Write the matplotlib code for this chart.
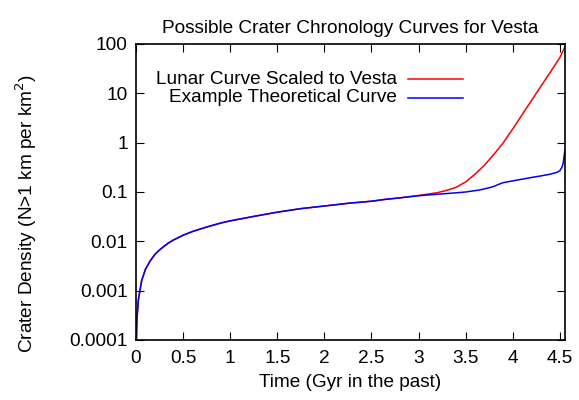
import matplotlib
matplotlib.use("Agg")
import matplotlib.pyplot as plt
from matplotlib.ticker import FixedLocator, NullLocator

plt.rcParams['font.family'] = ['Liberation Sans', 'DejaVu Sans']
FS = 13.7

# Data
time_gyr = [0.0, 0.004, 0.01, 0.025, 0.06, 0.1, 0.15, 0.2, 0.25, 0.3, 0.35, 0.4,
            0.5, 0.6, 0.75, 0.9, 1.0, 1.25, 1.5, 1.75, 2.0, 2.25, 2.5, 2.65, 2.8,
            3.0, 3.2, 3.3, 3.4, 3.5, 3.6, 3.7, 3.8, 3.9, 4.0, 4.1, 4.2, 4.3, 4.4,
            4.5, 4.555]
lunar = [0.00008, 0.0001, 0.00026, 0.00065, 0.0016, 0.0027, 0.004, 0.0054,
         0.0067, 0.008, 0.0094, 0.0107, 0.0133, 0.0158, 0.0195, 0.0235, 0.026,
         0.032, 0.039, 0.046, 0.052, 0.059, 0.065, 0.071, 0.076, 0.085, 0.097,
         0.108, 0.125, 0.16, 0.23, 0.35, 0.58, 1.0, 1.9, 3.7, 7.2, 14.0, 27.0,
         53.0, 88.0]

time_theo = [0.0, 0.004, 0.01, 0.025, 0.06, 0.1, 0.15, 0.2, 0.25, 0.3, 0.35, 0.4,
             0.5, 0.6, 0.75, 0.9, 1.0, 1.25, 1.5, 1.75, 2.0, 2.25, 2.5, 2.65, 2.8,
             3.0, 3.2, 3.33, 3.5, 3.65, 3.75, 3.8, 3.85, 3.9, 4.0, 4.1, 4.2, 4.3,
             4.4, 4.47, 4.5, 4.52, 4.535, 4.555]
theo = [0.00008, 0.0001, 0.00026, 0.00065, 0.0016, 0.0027, 0.004, 0.0054,
        0.0067, 0.008, 0.0094, 0.0107, 0.0133, 0.0158, 0.0195, 0.0235, 0.026,
        0.032, 0.039, 0.046, 0.052, 0.059, 0.065, 0.071, 0.076, 0.084, 0.09,
        0.094, 0.10, 0.11, 0.122, 0.13, 0.143, 0.155, 0.168, 0.182, 0.197,
        0.212, 0.23, 0.25, 0.27, 0.31, 0.38, 0.72]

x_ticks = [0, 0.5, 1, 1.5, 2, 2.5, 3, 3.5, 4, 4.5]
x_tick_labels = ['0', '0.5', '1', '1.5', '2', '2.5', '3', '3.5', '4', '4.5']
y_ticks = [0.0001, 0.001, 0.01, 0.1, 1, 10, 100]
y_tick_labels = ['0.0001', '0.001', '0.01', '0.1', '1', '10', '100']

fig = plt.figure(figsize=(5.79, 4.0), dpi=100)
ax = fig.add_axes([136 / 579, 60 / 400, 429 / 579, 296 / 400])

ax.plot(time_gyr, lunar, color='#ff0000', lw=1.1)
ax.plot(time_theo, theo, color='#0000ff', lw=1.1)

ax.set_yscale('log')
ax.set_xlim(0, 4.555)
ax.set_ylim(0.0001, 100)
ax.xaxis.set_major_locator(FixedLocator(x_ticks))
ax.xaxis.set_minor_locator(NullLocator())
ax.yaxis.set_major_locator(FixedLocator(y_ticks))
ax.yaxis.set_minor_locator(NullLocator())
ax.set_xticklabels(x_tick_labels)
ax.set_yticklabels(y_tick_labels)

ax.tick_params(direction='in', length=6, width=0.8, top=True, right=True,
               labelsize=FS)
ax.tick_params(axis='y', pad=6)
ax.tick_params(axis='x', pad=7)
for s in ax.spines.values():
    s.set_linewidth(1.2)

ax.set_title('Possible Crater Chronology Curves for Vesta', fontsize=FS, pad=8)
ax.set_xlabel('Time (Gyr in the past)', fontsize=FS, labelpad=5)
fig.text(26 / 579, 1 - 214 / 400, 'Crater Density (N>1 km per km$^2$)',
         rotation=90, ha='center', va='center', fontsize=FS)

# gnuplot-style key: right-aligned text, then line sample
labels = ['Lunar Curve Scaled to Vesta', 'Example Theoretical Curve']
colors = ['#ff0000', '#0000ff']
ys = [(340 - 79) / 296, (340 - 98) / 296]
for lab, c, yy in zip(labels, colors, ys):
    ax.text((397 - 136) / 429, yy, lab, transform=ax.transAxes, ha='right',
            va='center', fontsize=FS)
    ax.plot([(408 - 136) / 429, (463 - 136) / 429], [yy, yy],
            transform=ax.transAxes, color=c, lw=1.1)

fig.savefig('out.png', dpi=100)
